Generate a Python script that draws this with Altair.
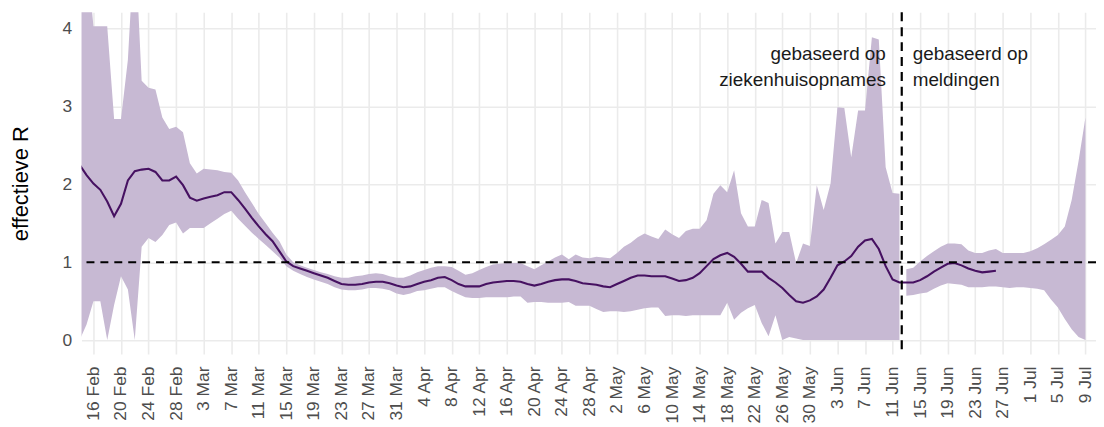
import altair as alt
import pandas as pd

FONT = "Liberation Sans"

# first day of the daily series (UTC)
start_date = "2020-02-14"

# estimate based on hospital admissions: 14 Feb .. 12 Jun (daily)
boven_zh = [
    5.0, 5.0, 4.03, 4.03, 4.03, 2.84, 2.84, 3.6, 5.2, 3.33,
    3.24, 3.22, 2.86, 2.71, 2.74, 2.67, 2.27, 2.14, 2.20, 2.19,
    2.18, 2.16, 2.15, 2.05, 1.90, 1.76, 1.62, 1.50, 1.38, 1.27,
    1.10, 1.00, 0.96, 0.93, 0.90, 0.87, 0.85, 0.82, 0.80, 0.80,
    0.82, 0.83, 0.85, 0.86, 0.85, 0.82, 0.80, 0.80, 0.83, 0.87,
    0.90, 0.93, 0.95, 0.95, 0.94, 0.89, 0.84, 0.86, 0.90, 0.94,
    0.97, 0.98, 0.99, 0.99, 0.99, 0.95, 0.91, 0.96, 1.01, 1.06,
    1.10, 1.04, 1.10, 1.06, 1.05, 1.07, 1.06, 1.05, 1.12, 1.20,
    1.25, 1.32, 1.37, 1.33, 1.30, 1.42, 1.36, 1.31, 1.40, 1.43,
    1.43, 1.54, 1.88, 1.99, 1.90, 2.18, 1.63, 1.46, 1.46, 1.80,
    1.76, 1.24, 1.39, 1.39, 0.99, 1.24, 1.21, 1.99, 1.67, 2.01,
    2.99, 2.98, 2.35, 2.95, 2.95, 3.89, 3.86, 2.22, 1.89, 1.88,
]
onder_zh = [
    0.0, 0.2, 0.50, 0.50, 0.0, 0.45, 0.82, 0.65, 0.0, 1.20,
    1.31, 1.26, 1.35, 1.48, 1.51, 1.37, 1.44, 1.44, 1.44, 1.50,
    1.56, 1.62, 1.66, 1.56, 1.47, 1.38, 1.30, 1.22, 1.14, 1.06,
    0.95, 0.89, 0.85, 0.81, 0.78, 0.75, 0.72, 0.68, 0.65, 0.64,
    0.64, 0.65, 0.67, 0.67, 0.66, 0.64, 0.60, 0.58, 0.60, 0.63,
    0.64, 0.66, 0.68, 0.68, 0.63, 0.59, 0.55, 0.54, 0.54, 0.55,
    0.55, 0.55, 0.55, 0.56, 0.56, 0.48, 0.49, 0.49, 0.48, 0.48,
    0.48, 0.49, 0.44, 0.44, 0.44, 0.40, 0.36, 0.37, 0.37, 0.36,
    0.37, 0.39, 0.41, 0.42, 0.42, 0.31, 0.32, 0.32, 0.31, 0.32,
    0.32, 0.32, 0.32, 0.32, 0.48, 0.26, 0.35, 0.41, 0.45, 0.22,
    0.05, 0.32, 0.0, 0.04, 0.02, 0.0, 0.0, 0.0, 0.0, 0.0,
    0.0, 0.0, 0.0, 0.0, 0.0, 0.0, 0.0, 0.0, 0.0, 0.0,
]
# estimate based on notifications: 13 Jun .. 9 Jul (daily)
boven_ml = [
    0.91, 0.93, 1.01, 1.08, 1.14, 1.20, 1.24, 1.24, 1.23, 1.15,
    1.12, 1.12, 1.15, 1.17, 1.12, 1.12, 1.12, 1.12, 1.14, 1.18,
    1.23, 1.29, 1.35, 1.46, 1.80, 2.30, 2.86,
]
onder_ml = [
    0.57, 0.58, 0.60, 0.61, 0.66, 0.70, 0.73, 0.72, 0.71, 0.68,
    0.68, 0.68, 0.69, 0.69, 0.68, 0.67, 0.68, 0.68, 0.67, 0.66,
    0.64, 0.52, 0.42, 0.27, 0.14, 0.04, 0.0,
]
# central estimate: 14 Feb .. 26 Jun (daily)
mediaan = [
    2.25, 2.12, 2.01, 1.93, 1.78, 1.59, 1.75, 2.05, 2.17, 2.19,
    2.20, 2.16, 2.05, 2.05, 2.10, 1.99, 1.83, 1.79, 1.82, 1.84,
    1.86, 1.90, 1.90, 1.80, 1.69, 1.57, 1.46, 1.36, 1.27, 1.14,
    1.01, 0.95, 0.92, 0.89, 0.86, 0.83, 0.80, 0.76, 0.72, 0.71,
    0.71, 0.72, 0.74, 0.75, 0.75, 0.73, 0.70, 0.68, 0.69, 0.72,
    0.75, 0.77, 0.80, 0.81, 0.77, 0.72, 0.69, 0.69, 0.69, 0.72,
    0.74, 0.75, 0.76, 0.76, 0.75, 0.72, 0.70, 0.72, 0.75, 0.77,
    0.78, 0.78, 0.76, 0.73, 0.72, 0.71, 0.69, 0.68, 0.72, 0.76,
    0.80, 0.83, 0.83, 0.82, 0.82, 0.82, 0.79, 0.76, 0.77, 0.80,
    0.86, 0.95, 1.04, 1.09, 1.12, 1.07, 0.98, 0.88, 0.88, 0.88,
    0.80, 0.74, 0.67, 0.58, 0.50, 0.48, 0.51, 0.56, 0.65, 0.80,
    0.96, 1.01, 1.08, 1.20, 1.28, 1.30, 1.17, 0.95, 0.78, 0.74,
    0.74, 0.74, 0.77, 0.82, 0.88, 0.93, 0.98, 0.99, 0.96, 0.92,
    0.89, 0.87, 0.88, 0.89,
]

tick_start, tick_end = "2020-02-16", "2020-07-09"
switch_moment = "2020-06-12T08:00:00Z"
x_limits = ["2020-02-14T06:30:00Z", "2020-07-10T12:45:00Z"]
y_limits = [-0.18, 4.21]
y_ticks = [0, 1, 2, 3, 4]
label_links = "gebaseerd op\nziekenhuisopnames"
label_rechts = "gebaseerd op\nmeldingen"
label_y = 3.6


def ms(s):
    t = pd.Timestamp(s)
    if t.tzinfo is None:
        t = t.tz_localize("UTC")
    return int(t.value // 10**6)


all_days = pd.date_range(start_date, periods=len(boven_zh) + len(boven_ml), freq="D").strftime("%Y-%m-%d")
n_zh = len(boven_zh)

band_df = pd.DataFrame({
    "datum": list(all_days[:n_zh]) + list(all_days[n_zh:]),
    "boven": boven_zh + boven_ml,
    "onder": onder_zh + onder_ml,
    "bron": ["ziekenhuis"] * n_zh + ["meldingen"] * len(boven_ml),
})
line_df = pd.DataFrame({"datum": list(all_days[:len(mediaan)]), "R": mediaan})

tick_values = [ms(d) for d in pd.date_range(tick_start, tick_end, freq="4D").strftime("%Y-%m-%d")]

x_scale = alt.Scale(type="utc", domain=[ms(x_limits[0]), ms(x_limits[1])], nice=False)
y_scale = alt.Scale(domain=y_limits, nice=False, zero=False)

x_axis = alt.Axis(
    values=tick_values, tickCount=len(tick_values) + 10, format="%-d %b",
    labelAngle=270, labelAlign="right", labelBaseline="middle", labelPadding=12,
    ticks=False, domain=False, grid=True, title=None, labelFontSize=17.5,
    labelColor="#4d4d4d", labelOverlap=False, labelFlush=False, labelBound=False,
)
y_axis = alt.Axis(
    values=y_ticks, format="d", title="effectieve R", titleFontSize=22,
    titleFontWeight="normal", titleColor="#000000", titleX=-61, titleY=172,
    titleAngle=270, titleAlign="center", titleBaseline="middle",
    labelFontSize=17.5, labelColor="#4d4d4d", labelPadding=10, ticks=False,
    domain=False, grid=True,
)

band = alt.Chart(band_df).mark_area(color="#c7b9d3", clip=True, interpolate="linear").encode(
    x=alt.X("datum:T", scale=x_scale, axis=x_axis),
    y=alt.Y("onder:Q", scale=y_scale, axis=y_axis),
    y2="boven:Q",
    detail="bron:N",
)

line = alt.Chart(line_df).mark_line(color="#461161", strokeWidth=2.1, clip=True).encode(
    x="datum:T", y="R:Q"
)

hline = alt.Chart(pd.DataFrame({"r": [1]})).mark_rule(
    color="#000000", strokeWidth=2.2, strokeDash=[8, 6]
).encode(y="r:Q")

vline = alt.Chart(pd.DataFrame({"datum": [switch_moment]})).mark_rule(
    color="#000000", strokeWidth=2.2, strokeDash=[9, 6]
).encode(x="datum:T")

txt_df = pd.DataFrame({"datum": [switch_moment], "y": [label_y]})
text_left = alt.Chart(txt_df).mark_text(
    align="right", baseline="alphabetic", dx=-16, fontSize=19, font=FONT,
    lineBreak="\n", lineHeight=26.5, color="#1a1a1a", text=label_links,
).encode(x="datum:T", y="y:Q")
text_right = alt.Chart(txt_df).mark_text(
    align="left", baseline="alphabetic", dx=11, fontSize=19, font=FONT,
    lineBreak="\n", lineHeight=26.5, color="#1a1a1a", text=label_rechts,
).encode(x="datum:T", y="y:Q")

chart = alt.layer(band, line, hline, vline, text_left, text_right).properties(
    width=1021, height=344,
    padding={"left": 74, "top": 3, "right": 0, "bottom": 72},
    autosize=alt.AutoSizeParams(type="none"),
).configure_axis(
    gridColor="#ebebeb", gridWidth=1.6, labelFont=FONT, titleFont=FONT,
).configure_view(strokeWidth=0)

chart.save("out.html", embed_options={"renderer": "svg", "actions": False})
